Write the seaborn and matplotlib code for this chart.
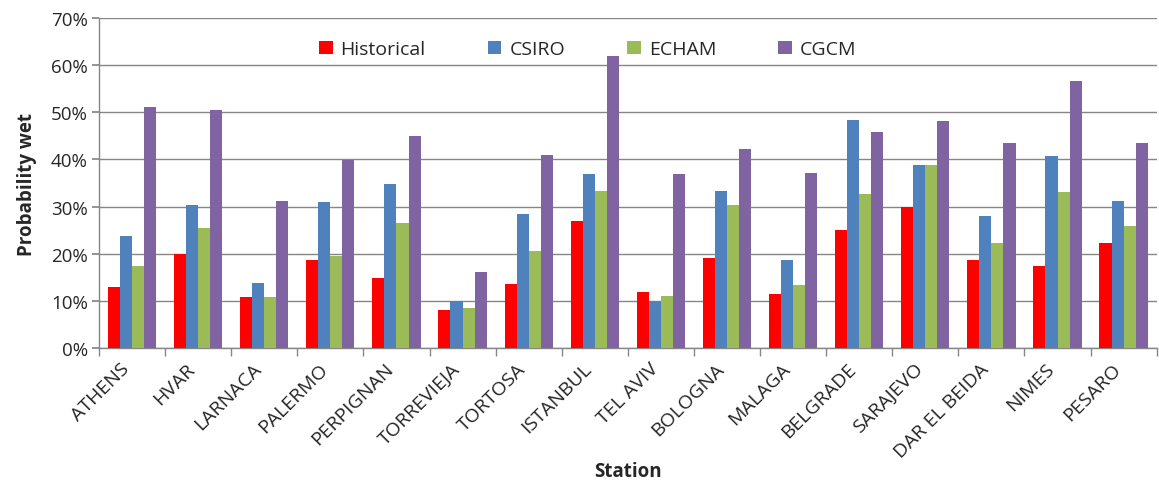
import matplotlib
matplotlib.use("Agg")
import matplotlib.pyplot as plt
import matplotlib.transforms as mtransforms
import seaborn as sns
import pandas as pd
import numpy as np
from matplotlib.ticker import FixedLocator, PercentFormatter

stations = ["ATHENS", "HVAR", "LARNACA", "PALERMO", "PERPIGNAN", "TORREVIEJA",
            "TORTOSA", "ISTANBUL", "TEL AVIV", "BOLOGNA", "MALAGA", "BELGRADE",
            "SARAJEVO", "DAR EL BEIDA", "NIMES", "PESARO"]
historical = [13.0, 20.0, 10.9, 18.6, 14.9, 8.1, 13.7, 26.9, 12.0, 19.1, 11.4, 25.0, 29.9, 18.6, 17.4, 22.2]
csiro = [23.8, 30.3, 13.9, 30.9, 34.8, 10.0, 28.5, 36.9, 10.1, 33.4, 18.6, 48.4, 38.8, 28.0, 40.7, 31.1]
echam = [17.4, 25.4, 10.9, 19.5, 26.6, 8.5, 20.7, 33.4, 11.1, 30.3, 13.4, 32.7, 38.8, 22.4, 33.1, 25.8]
cgcm = [51.2, 50.5, 31.3, 39.8, 44.9, 16.1, 41.0, 62.0, 36.9, 42.3, 37.2, 45.8, 48.1, 43.5, 56.6, 43.5]
series = ["Historical", "CSIRO", "ECHAM", "CGCM"]
colors = ["#FF0000", "#4F81BD", "#9BBB59", "#8064A2"]
yticks = [0, 10, 20, 30, 40, 50, 60, 70]

rows = []
for name, vals in zip(series, [historical, csiro, echam, cgcm]):
    for st, v in zip(stations, vals):
        rows.append({"Station": st, "Series": name, "Value": v})
df = pd.DataFrame(rows)

sns.set_theme(style="white")
plt.rcParams["font.family"] = ["Open Sans", "DejaVu Sans"]

fig = plt.figure(figsize=(11.59, 4.85), dpi=100)
ax = fig.add_axes([0.0854, 0.280, 0.9126, 0.681])

sns.barplot(data=df, x="Station", y="Value", hue="Series", hue_order=series,
            order=stations, palette=colors, width=0.73, saturation=1,
            errorbar=None, ax=ax, zorder=3, linewidth=0)

grid_c = "#868686"
ax.set_ylim(0, 70)
ax.set_xlim(-0.5, len(stations) - 0.5)
ax.yaxis.set_major_locator(FixedLocator(yticks))
ax.yaxis.set_major_formatter(PercentFormatter(decimals=0))
ax.grid(axis="y", color=grid_c, linewidth=1, zorder=0)
ax.set_axisbelow(True)

for s in ["top", "right"]:
    ax.spines[s].set_visible(False)
for s in ["left", "bottom"]:
    ax.spines[s].set_color(grid_c)
    ax.spines[s].set_linewidth(1)

ax.tick_params(axis="y", left=True, length=5, color=grid_c, labelsize=13.5, pad=3, labelcolor="#262626")
ax.set_xticks(range(len(stations)))
ax.set_xticklabels(stations, rotation=45, ha="right", rotation_mode="anchor")
ax.tick_params(axis="x", which="major", length=0, labelsize=14, pad=8, labelcolor="#262626")
ax.set_xticks(np.arange(-0.5, len(stations), 1), minor=True)
ax.tick_params(axis="x", which="minor", bottom=True, length=6, color=grid_c)

offset = mtransforms.ScaledTranslation(-12 / 100, 0, fig.dpi_scale_trans)
for lab in ax.get_xticklabels():
    lab.set_transform(lab.get_transform() + offset)

ax.set_xlabel("Station", fontsize=13.5, fontweight="bold", labelpad=0)
ax.set_ylabel("Probability wet", fontsize=13.5, fontweight="bold", labelpad=10)

ax.legend(loc="upper center", bbox_to_anchor=(0.462, 0.985), ncol=4, frameon=False,
          fontsize=14, handlelength=0.7, handleheight=0.7, handletextpad=0.4,
          columnspacing=3.2)

fig.savefig("out.png", dpi=100)
